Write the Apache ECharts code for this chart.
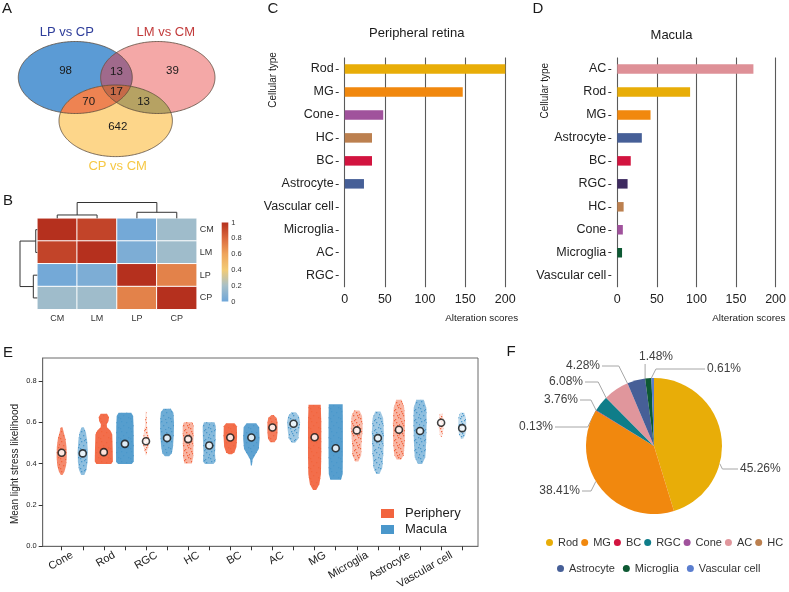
<!DOCTYPE html>
<html><head><meta charset="utf-8">
<script src="https://cdn.jsdelivr.net/npm/echarts@6/dist/echarts.min.js"></script>
<style>html,body{margin:0;padding:0;background:#fff}#c{width:789px;height:592px}</style>
</head><body><div id="c"></div>
<script>
// ================= DATA =================
// A: Venn counts
const vennSetNames = ['LP vs CP', 'LM vs CM', 'CP vs CM'];
const vennRegionMasks = [1, 2, 4, 3, 5, 6, 7];          // which sets each region belongs to
const vennCounts = [98, 39, 642, 13, 70, 13, 17];

// B: correlation heatmap
const heatLabels = ['CM', 'LM', 'LP', 'CP'];
const heatRowCM = [1.00, 0.93, 0.02, 0.17];
const heatRowLM = [0.93, 1.00, 0.05, 0.17];
const heatRowLP = [0.02, 0.05, 1.00, 0.72];
const heatRowCP = [0.17, 0.17, 0.72, 1.00];
const colTreeHeights = [0.21, 0.38, 1.0];   // CM+LM, LP+CP, root
const rowTreeHeights = [0.09, 0.23, 1.0];
const colorbarTicks = [0, 0.2, 0.4, 0.6, 0.8, 1];

// C: peripheral retina
const periphCats = ['Rod', 'MG', 'Cone', 'HC', 'BC', 'Astrocyte', 'Vascular cell', 'Microglia', 'AC', 'RGC'];
const periphScores = [200, 147, 48, 34, 34, 24, 0, 0, 0, 0];
// D: macula
const maculaCats = ['AC', 'Rod', 'MG', 'Astrocyte', 'BC', 'RGC', 'HC', 'Cone', 'Microglia', 'Vascular cell'];
const maculaScores = [172, 92, 42, 31, 17, 13, 8, 7, 6, 0];

// E: light stress likelihood per cell type
const stripCats = ['Cone', 'Rod', 'RGC', 'HC', 'BC', 'AC', 'MG', 'Microglia', 'Astrocyte', 'Vascular cell'];
const periphMedian = [0.452, 0.455, 0.508, 0.518, 0.526, 0.574, 0.527, 0.560, 0.563, 0.597];
const maculaMedian = [0.449, 0.495, 0.523, 0.487, 0.526, 0.592, 0.474, 0.523, 0.557, 0.571];
// spread of the point clouds: [likelihood, cloud width]
const periphSpread = [
  [[0.575,0.08],[0.55,0.2],[0.52,0.36],[0.48,0.46],[0.43,0.48],[0.39,0.42],[0.36,0.26],[0.345,0.08]],
  [[0.64,0.3],[0.625,0.48],[0.605,0.45],[0.59,0.28],[0.575,0.3],[0.56,0.62],[0.54,0.8],[0.47,0.84],[0.41,0.86],[0.398,0.7]],
  [[0.65,0.04],[0.58,0.1],[0.52,0.28],[0.495,0.3],[0.46,0.12],[0.44,0.04]],
  [[0.60,0.4],[0.58,0.52],[0.5,0.5],[0.43,0.48],[0.40,0.35]],
  [[0.595,0.4],[0.58,0.62],[0.53,0.64],[0.48,0.58],[0.455,0.4],[0.445,0.15]],
  [[0.635,0.1],[0.62,0.4],[0.6,0.48],[0.55,0.48],[0.52,0.42],[0.503,0.2]],
  [[0.684,0.58],[0.6,0.63],[0.45,0.63],[0.35,0.6],[0.3,0.45],[0.272,0.15]],
  [[0.656,0.25],[0.63,0.5],[0.57,0.56],[0.5,0.45],[0.44,0.42],[0.41,0.15]],
  [[0.708,0.25],[0.67,0.5],[0.6,0.57],[0.5,0.55],[0.44,0.45],[0.42,0.2]],
  [[0.64,0.12],[0.61,0.22],[0.56,0.2],[0.53,0.08]]
];
const maculaSpread = [
  [[0.575,0.1],[0.55,0.3],[0.51,0.42],[0.46,0.48],[0.41,0.46],[0.37,0.36],[0.345,0.15]],
  [[0.645,0.6],[0.63,0.78],[0.58,0.82],[0.48,0.84],[0.41,0.84],[0.398,0.65]],
  [[0.665,0.35],[0.645,0.6],[0.6,0.66],[0.54,0.64],[0.48,0.56],[0.45,0.45],[0.435,0.2]],
  [[0.60,0.5],[0.58,0.62],[0.52,0.6],[0.45,0.55],[0.41,0.6],[0.398,0.4]],
  [[0.595,0.45],[0.575,0.74],[0.52,0.78],[0.47,0.7],[0.445,0.4],[0.42,0.12],[0.39,0.05]],
  [[0.648,0.2],[0.63,0.5],[0.6,0.62],[0.56,0.55],[0.52,0.45],[0.5,0.15]],
  [[0.687,0.66],[0.6,0.68],[0.45,0.68],[0.35,0.66],[0.322,0.5]],
  [[0.652,0.25],[0.62,0.5],[0.55,0.57],[0.45,0.52],[0.38,0.42],[0.35,0.15]],
  [[0.708,0.35],[0.67,0.6],[0.6,0.63],[0.5,0.58],[0.43,0.5],[0.398,0.2]],
  [[0.645,0.2],[0.62,0.36],[0.57,0.38],[0.54,0.3],[0.52,0.1]]
];
const periphDensity = [0.75, 0.95, 0.15, 0.45, 0.95, 0.85, 0.95, 0.4, 0.45, 0.12];
const maculaDensity = [0.6, 0.95, 0.8, 0.65, 0.9, 0.5, 0.95, 0.5, 0.6, 0.3];
const stressTicks = [0, 0.2, 0.4, 0.6, 0.8];

// F: share of alteration
const pieNames = ['Rod', 'MG', 'BC', 'RGC', 'Cone', 'AC', 'HC', 'Astrocyte', 'Microglia', 'Vascular cell'];
const pieShares = [45.26, 38.41, 0.13, 3.76, 0, 6.08, 0, 4.28, 1.48, 0.61];

// ================= STYLE / LAYOUT =================
const FONT = 'Liberation Sans, Arial, Helvetica, sans-serif';
const barColors = {Rod:'#E8AD08', MG:'#F1880E', Cone:'#A0529C', HC:'#BC804F', BC:'#D2143F', Astrocyte:'#465F97',
  AC:'#DE9097', RGC:'#3E2A60', Microglia:'#0D5933', 'Vascular cell':'#5B7ECF'};
const pieColors = {Rod:'#E8AD08', MG:'#F1880E', BC:'#D2143F', RGC:'#0F7D89', Cone:'#A0529C', AC:'#E0969C', HC:'#BC804F',
  Astrocyte:'#465F97', Microglia:'#0D5933', 'Vascular cell':'#5B7ECF'};
const heatScale = ['#6EA6D9', '#A8C0C8', '#F2CB75', '#EFA55C', '#DB6A3E', '#B5301E'];
const periphColor = '#F2643E', maculaColor = '#4A97CB';
const vennShapes = [{cx:75.3, cy:77.5, rx:57, ry:36}, {cx:157.8, cy:77.5, rx:57.2, ry:36}, {cx:115.7, cy:120.8, rx:56.7, ry:35.8}];
const vennFill = {1:'#5B9BD5', 2:'#F4A8A7', 4:'#FDD68A', 3:'#A06A8C', 5:'#EE8352', 6:'#B6A263', 7:'#C66A48'};
const vennTitleColors = ['#2E3D9A', '#C23B3B', '#F6C845'];
const PIE_C = [654, 446], PIE_R = 68;
const pieLabelSpots = {Rod:[740, 469, 'left'], MG:[580, 491, 'right'], BC:[553, 427, 'right'], RGC:[578, 400, 'right'],
  AC:[583, 382, 'right'], Astrocyte:[600, 366, 'right'], Microglia:[656, 357, 'center'], 'Vascular cell':[707, 369, 'left']};

// ================= HELPERS =================
function vennRender(params, api) {
  const E = vennShapes.map(s => { const c = api.coord([s.cx, s.cy]); const r = api.size([s.rx, s.ry]); return {cx:c[0], cy:c[1], rx:r[0], ry:r[1]}; });
  const N = 240;
  const ring = e => { const p = []; for (let k = 0; k < N; k++) { const t = 2 * Math.PI * k / N; p.push([e.cx + e.rx * Math.cos(t), e.cy + e.ry * Math.sin(t)]); } return p; };
  const inside = (e, x, y, tol) => ((x - e.cx) / e.rx) ** 2 + ((y - e.cy) / e.ry) ** 2 <= (tol || 1);
  const inter = idx => {
    const pts = [];
    idx.forEach(i => ring(E[i]).forEach(p => { if (idx.every(j => j === i || inside(E[j], p[0], p[1], 1.0001))) pts.push(p); }));
    const cx = pts.reduce((a, p) => a + p[0], 0) / pts.length, cy = pts.reduce((a, p) => a + p[1], 0) / pts.length;
    pts.sort((a, b) => Math.atan2(a[1] - cy, a[0] - cx) - Math.atan2(b[1] - cy, b[0] - cx));
    return pts;
  };
  const ch = [];
  E.forEach((e, i) => ch.push({type:'polygon', shape:{points: ring(e)}, style:{fill: vennFill[1 << i]}}));
  [[0,1],[0,2],[1,2],[0,1,2]].forEach(idx => {
    const m = idx.reduce((a, i) => a | (1 << i), 0);
    ch.push({type:'polygon', shape:{points: inter(idx)}, style:{fill: vennFill[m]}});
  });
  E.forEach(e => ch.push({type:'polygon', shape:{points: ring(e)}, style:{fill:'none', stroke:'#5b4a3c', lineWidth:0.8}}));
  const sums = {};
  const x0 = Math.min(...E.map(e => e.cx - e.rx)), x1 = Math.max(...E.map(e => e.cx + e.rx));
  const y0 = Math.min(...E.map(e => e.cy - e.ry)), y1 = Math.max(...E.map(e => e.cy + e.ry));
  for (let x = x0; x <= x1; x += 1) for (let y = y0; y <= y1; y += 1) {
    let m = 0; E.forEach((e, i) => { if (inside(e, x, y)) m |= 1 << i; });
    if (m) { const s = sums[m] || (sums[m] = {x:0, y:0, n:0}); s.x += x; s.y += y; s.n++; }
  }
  const nudge = {1:[3,-2], 2:[2,-2], 4:[2,-4]};
  vennRegionMasks.forEach((m, k) => {
    const s = sums[m]; if (!s) return;
    const d = nudge[m] || [0, 0];
    ch.push({type:'text', x: s.x / s.n + d[0], y: s.y / s.n + d[1], style:{text: String(vennCounts[k]), fontSize:11.5, fontFamily:FONT, fill:'#1a1a1a', align:'center', verticalAlign:'middle'}});
  });
  const tpos = [[E[0].cx - 0.15 * E[0].rx, E[0].cy - E[0].ry - 9], [E[1].cx + 0.14 * E[1].rx, E[1].cy - E[1].ry - 9], [E[2].cx + 2, E[2].cy + E[2].ry + 10]];
  vennSetNames.forEach((n, i) => ch.push({type:'text', x: tpos[i][0], y: tpos[i][1], style:{text:n, fontSize:13, fontFamily:FONT, fill: vennTitleColors[i], align:'center', verticalAlign:'middle'}}));
  return {type:'group', children: ch};
}

function treeItems(h) {
  return [[0.5, 1.5, 0, 0, h[0]], [2.5, 3.5, 0, 0, h[1]], [1.0, 3.0, h[0], h[1], h[2]]];
}
function treeRender(horizontal) {
  return function (params, api) {
    const a = api.value(0), b = api.value(1), ha = api.value(2), hb = api.value(3), h = api.value(4);
    const P = (pos, ht) => horizontal ? api.coord([pos, ht]) : api.coord([ht, pos]);
    return {type:'polyline', shape:{points:[P(a, ha), P(a, h), P(b, h), P(b, hb)]}, style:{stroke:'#333', lineWidth:1, fill:'none'}};
  };
}

const dotSpots = [[1,1],[6,2],[3,5],[8,7],[0,8],[5,9],[9,4],[4,0],[2,3],[7,5],[1,6],[6,7],[3,8],[8,1]];
function speckle(color, n) {
  const cv = document.createElement('canvas'); cv.width = 10; cv.height = 10;
  const g = cv.getContext('2d'); g.fillStyle = color;
  dotSpots.slice(0, n).forEach(([x, y]) => g.fillRect(x, y, 1.3, 1.3));
  return {image: cv, repeat: 'repeat'};
}
function stripRender(spread, density, color) {
  return function (params, api) {
    const xPos = api.value(0), gi = api.value(1);
    const prof = spread[gi];
    const left = [], right = [];
    prof.forEach(([v, w]) => { left.push(api.coord([xPos - w / 2, v])); right.push(api.coord([xPos + w / 2, v])); });
    const pts = left.concat(right.reverse());
    const d = density[gi];
    return {type:'group', children:[
      {type:'polygon', shape:{points:pts}, style:{fill:color, opacity: Math.min(1, 0.08 + d * 0.9)}},
      {type:'polygon', shape:{points:pts}, style:{fill: speckle(color, Math.round(4 + 10 * (1 - d)))}}
    ]};
  };
}

// cumulative slice angles (clockwise from 12 o'clock, radians)
const pieTotal = pieShares.reduce((a, b) => a + b, 0);
const pieStart = [], pieEnd = [];
pieShares.reduce((acc, v, i) => { pieStart[i] = acc / pieTotal * 2 * Math.PI; pieEnd[i] = (acc + v) / pieTotal * 2 * Math.PI; return acc + v; }, 0);
function pieLabelLayout(params) {
  const i = params.dataIndex, spot = pieLabelSpots[pieNames[i]];
  if (!spot) return {};
  const [lx, ly, al] = spot;
  let th = Math.atan2(lx - PIE_C[0], -(ly - PIE_C[1]));
  if (th < 0) th += 2 * Math.PI;
  const mid = (pieStart[i] + pieEnd[i]) / 2;
  if (th < pieStart[i] || th > pieEnd[i]) th = Math.abs(th - pieStart[i]) < Math.abs(th - pieEnd[i]) ? pieStart[i] : pieEnd[i];
  if (pieEnd[i] - pieStart[i] < 0.02) th = mid;
  const arc = [PIE_C[0] + PIE_R * Math.sin(th), PIE_C[1] - PIE_R * Math.cos(th)];
  let pts;
  if (al === 'center') pts = [arc, [arc[0], ly + 7]];
  else {
    const s = al === 'left' ? 1 : -1;
    const elbow = [arc[0] + s * 0.5 * Math.abs(arc[1] - ly), ly];
    pts = [arc, elbow, [lx - s * 2, ly]];
  }
  return {x: lx, y: ly, align: al, verticalAlign: 'middle', labelLinePoints: pts};
}

// ================= OPTION =================
const heatRows = [heatRowCM, heatRowLM, heatRowLP, heatRowCP];
const heatData = [];
heatRows.forEach((row, r) => row.forEach((v, c) => heatData.push([c, r, v])));

const hide = {show:false};
const txt = (text, x, y, size, extra) => ({type:'text', x, y, style:Object.assign({text, fontSize:size, fontFamily:FONT, fill:'#1a1a1a', align:'center', verticalAlign:'middle'}, extra || {})});

const barAxisX = (gi) => ({gridIndex:gi, type:'value', min:0, max:200, interval:50, axisLine:hide, axisTick:hide,
  splitLine:{show:true, lineStyle:{color:'#5a5a5a', width:1.1}}, axisLabel:{fontSize:12.5, color:'#222', margin:6, fontFamily:FONT}});
const barAxisY = (gi, cats) => ({gridIndex:gi, type:'category', data:cats, inverse:true, offset:6, axisLine:{show:false, onZero:false},
  axisTick:{show:true, length:3, alignWithLabel:true, lineStyle:{color:'#333'}}, axisLabel:{fontSize:12.5, color:'#222', margin:5, fontFamily:FONT}});
const frameLine = {show:true, onZero:false, lineStyle:{color:'#6a6a6a', width:1}};

const option = {
  animation:false,
  textStyle:{fontFamily:FONT},
  grid:[
    {left:0, top:0, width:260, height:190},
    {left:37.3, top:218.3, width:159.4, height:91},
    {left:37.3, top:202.5, width:159.4, height:15.8},
    {left:20, top:218.3, width:17.3, height:91},
    {left:221.7, top:222.5, width:6.6, height:79},
    {left:344.7, top:57.5, width:160.6, height:229.7},
    {left:617.3, top:57.5, width:160, height:229.7},
    {left:42.7, top:358, width:435.3, height:188.3, show:true, borderColor:'#6a6a6a', borderWidth:1}
  ],
  xAxis:[
    {gridIndex:0, type:'value', min:0, max:260, show:false},
    {gridIndex:1, type:'category', data:heatLabels, axisLine:hide, axisTick:hide, axisLabel:{fontSize:9, color:'#333', margin:5}},
    {gridIndex:2, type:'value', min:0, max:4, show:false},
    {gridIndex:3, type:'value', min:0, max:1, inverse:true, show:false},
    {gridIndex:4, type:'category', data:['scale'], show:false},
    barAxisX(5), barAxisX(6),
    {gridIndex:7, type:'value', min:-0.9, max:19.75, axisLine:frameLine, splitLine:hide,
      axisTick:{show:true, length:4, customValues:[0,1,2,3,4,5,6,7,8,9,10,11,12,13,14,15,16,17,18,19], lineStyle:{color:'#333', width:1}},
      axisLabel:{show:true, rotate:30, fontSize:11, color:'#222', margin:8,
        customValues: stripCats.map((c, i) => 2 * i + 0.5),
        formatter: v => stripCats[Math.round((v - 0.5) / 2)] || ''}}
  ],
  yAxis:[
    {gridIndex:0, type:'value', min:0, max:190, inverse:true, show:false},
    {gridIndex:1, type:'category', data:heatLabels, inverse:true, position:'right', axisLine:hide, axisTick:hide, axisLabel:{fontSize:9, color:'#333', margin:3}},
    {gridIndex:2, type:'value', min:0, max:1, show:false},
    {gridIndex:3, type:'value', min:0, max:4, inverse:true, show:false},
    {gridIndex:4, type:'value', min:0, max:1, position:'right', axisLine:hide, splitLine:hide,
      axisTick:hide, axisLabel:{fontSize:7.5, color:'#333', margin:3, customValues:colorbarTicks, formatter: v => String(v)}},
    barAxisY(5, periphCats), barAxisY(6, maculaCats),
    {gridIndex:7, type:'value', min:0, max:0.91, axisLine:frameLine, splitLine:hide,
      axisTick:{show:true, length:4, customValues:stressTicks, lineStyle:{color:'#333', width:1}},
      axisLabel:{fontSize:7.5, color:'#222', margin:6, customValues:stressTicks, formatter: v => v.toFixed(1)}}
  ],
  visualMap:{show:false, min:0, max:1, seriesIndex:1, inRange:{color:heatScale}},
  legend:[
    {data:['Periphery', 'Macula'], left:376, top:502, orient:'vertical', icon:'rect', itemWidth:13, itemHeight:9, itemGap:3,
      textStyle:{fontSize:13, color:'#222', fontFamily:FONT, padding:[0,0,0,6]}},
    {data:pieNames.slice(0, 7), left:541, top:532, width:248, icon:'circle', itemWidth:7, itemHeight:7, itemGap:3,
      textStyle:{fontSize:11, color:'#333', fontFamily:FONT}},
    {data:pieNames.slice(7), left:552, top:558, width:236, icon:'circle', itemWidth:7, itemHeight:7, itemGap:8,
      textStyle:{fontSize:11, color:'#333', fontFamily:FONT}}
  ],
  series:[
    {type:'custom', xAxisIndex:0, yAxisIndex:0, data:[[0, 0]], renderItem:vennRender, silent:true},
    {type:'heatmap', xAxisIndex:1, yAxisIndex:1, data:heatData, itemStyle:{borderColor:'#ffffff', borderWidth:1}},
    {type:'custom', xAxisIndex:2, yAxisIndex:2, data:treeItems(colTreeHeights), renderItem:treeRender(true), encode:{x:0, y:4}},
    {type:'custom', xAxisIndex:3, yAxisIndex:3, data:treeItems(rowTreeHeights), renderItem:treeRender(false), encode:{x:4, y:0}},
    {type:'bar', xAxisIndex:4, yAxisIndex:4, data:[1], barWidth:'100%', silent:true,
      itemStyle:{color:{type:'linear', x:0, y:1, x2:0, y2:0, colorStops: heatScale.map((c, i) => ({offset: i / (heatScale.length - 1), color: c}))}}},
    {type:'bar', xAxisIndex:5, yAxisIndex:5, data:periphScores, barWidth:9.5,
      itemStyle:{color: p => barColors[periphCats[p.dataIndex]]}},
    {type:'bar', xAxisIndex:6, yAxisIndex:6, data:maculaScores, barWidth:9.5,
      itemStyle:{color: p => barColors[maculaCats[p.dataIndex]]}},
    {name:'Periphery', type:'custom', xAxisIndex:7, yAxisIndex:7, itemStyle:{color:periphColor},
      data: stripCats.map((c, i) => [2 * i, i, periphMedian[i]]), encode:{x:0, y:2},
      renderItem: stripRender(periphSpread, periphDensity, periphColor)},
    {name:'Macula', type:'custom', xAxisIndex:7, yAxisIndex:7, itemStyle:{color:maculaColor},
      data: stripCats.map((c, i) => [2 * i + 1, i, maculaMedian[i]]), encode:{x:0, y:2},
      renderItem: stripRender(maculaSpread, maculaDensity, maculaColor)},
    {name:'median', type:'scatter', xAxisIndex:7, yAxisIndex:7, symbolSize:7, z:5,
      itemStyle:{color:'#ffffff', borderColor:'#111', borderWidth:1.6},
      data: stripCats.flatMap((c, i) => [[2 * i, periphMedian[i]], [2 * i + 1, maculaMedian[i]]])},
    {type:'pie', center:PIE_C, radius:PIE_R, startAngle:90, clockwise:true, avoidLabelOverlap:false, minShowLabelAngle:0,
      data: pieNames.map((n, i) => ({name:n, value:pieShares[i], itemStyle:{color:pieColors[n]},
        label:{show: pieShares[i] > 0}, labelLine:{show: pieShares[i] > 0}})),
      label:{formatter: p => p.value.toFixed(2) + '%', fontSize:12, color:'#404040', fontFamily:FONT},
      labelLine:{length:8, length2:18, lineStyle:{color:'#a6a6a6', width:1}},
      labelLayout: pieLabelLayout}
  ],
  graphic:[
    txt('A', 7, 9, 15), txt('B', 8, 201, 15), txt('C', 273, 9, 15), txt('D', 538, 9, 15), txt('E', 8, 353, 15), txt('F', 511, 352, 15),
    txt('Peripheral retina', 416.7, 33.3, 13), txt('Macula', 671.5, 35, 13),
    Object.assign(txt('Cellular type', 273.3, 80, 10), {rotation: Math.PI / 2}),
    Object.assign(txt('Cellular type', 545, 90.7, 10), {rotation: Math.PI / 2}),
    txt('Alteration scores', 481.7, 318, 9.8), txt('Alteration scores', 748.8, 318, 9.8),
    Object.assign(txt('Mean light stress likelihood', 15, 464, 10), {rotation: Math.PI / 2})
  ]
};

const chart = echarts.init(document.getElementById('c'));
chart.setOption(option);
</script>
</body></html>
